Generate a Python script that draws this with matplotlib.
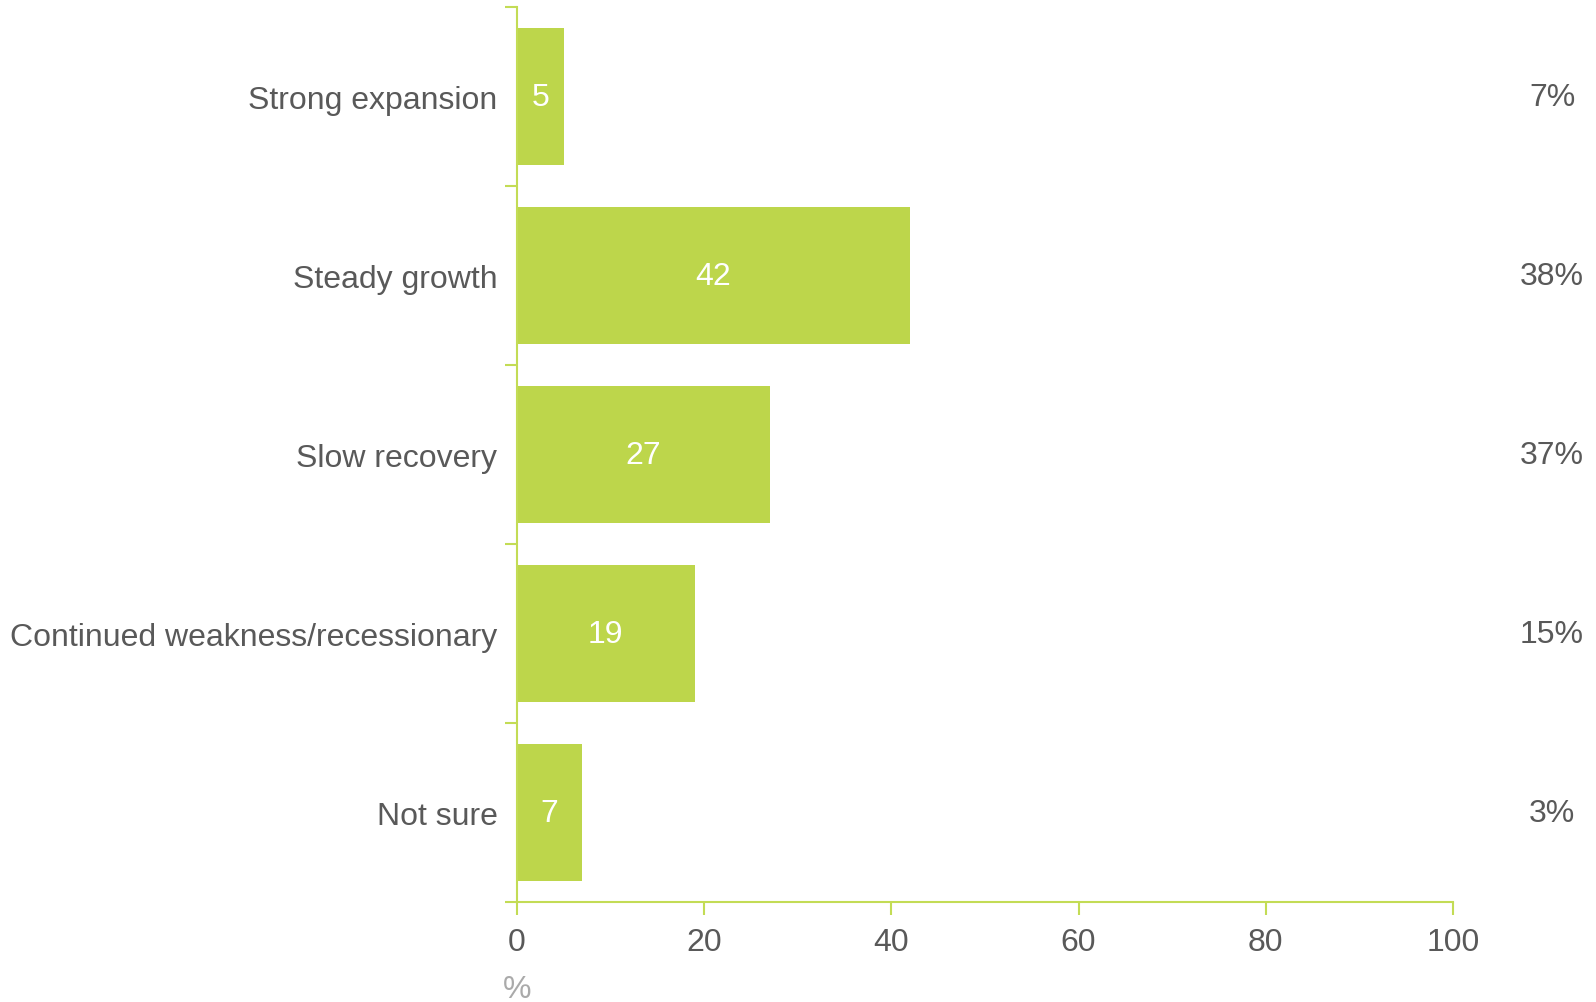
import numpy as np
import matplotlib.pyplot as plt
from matplotlib import transforms

categories = ["Strong expansion", "Steady growth", "Slow recovery",
              "Continued weakness/recessionary", "Not sure"]
values = [5, 42, 27, 19, 7]
right_labels = ["7%", "38%", "37%", "15%", "3%"]

green = '#bdd64b'
axis_green = '#c3dc55'
text_grey = '#595959'

plt.rcParams['font.family'] = ['Liberation Sans', 'DejaVu Sans']

fig = plt.figure(figsize=(15.96, 10.03), dpi=100, facecolor='w')
ax = fig.add_axes([0.3239, 0.0997, 0.5865, 0.8923])

y = np.arange(len(categories))
ax.barh(y, values, height=0.765, color=green, zorder=2)

for yi, v in zip(y, values):
    ax.text(v / 2, yi, str(v), ha='center', va='center', color='white', fontsize=23)

trans = transforms.blended_transform_factory(ax.transAxes, ax.transData)
for yi, lab in zip(y, right_labels):
    ax.text(1.1058, yi, lab, transform=trans, ha='center', va='center',
            color=text_grey, fontsize=23)

ax.set_xlim(0, 100)
ax.set_ylim(4.5, -0.5)
ax.set_xticks([0, 20, 40, 60, 80, 100])
ax.set_yticks(y)
ax.set_yticklabels(categories)
ax.set_yticks(np.arange(-0.5, 5.0, 1.0), minor=True)

ax.tick_params(axis='y', which='major', length=0, pad=14, labelsize=23, labelcolor=text_grey)
ax.tick_params(axis='y', which='minor', length=9, width=1.5, color=axis_green, direction='out')
ax.tick_params(axis='x', which='major', length=9, width=1.5, color=axis_green, pad=9,
               labelsize=23, labelcolor=text_grey)

for s in ['top', 'right']:
    ax.spines[s].set_visible(False)
for s in ['left', 'bottom']:
    ax.spines[s].set_color(axis_green)
    ax.spines[s].set_linewidth(1.5)

fig.text(517 / 1596, 1 - 990 / 1003, '%', ha='center', va='center', color='#aaaaaa', fontsize=23)

fig.savefig('out.png', dpi=100, facecolor='w')
